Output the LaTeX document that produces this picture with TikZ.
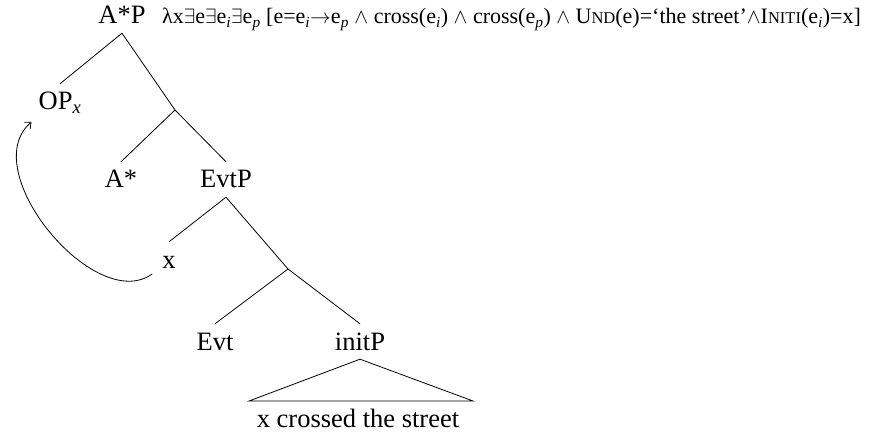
\documentclass[tikz,border=0pt]{standalone}
\usepackage{fontspec}
\setmainfont{Liberation Serif}
\usetikzlibrary{arrows.meta, positioning, calc}

\newcommand{\fakesc}[2]{#1{\fontsize{16.5}{18}\selectfont #2}}
\newcommand{\isub}[1]{\textsubscript{\itshape #1}}

\begin{document}
\begin{tikzpicture}[
  x=1pt, y=-1pt,
  tree label/.style={anchor=base, font=\fontsize{26.5}{30}\selectfont,
    text height=17pt, text depth=0pt, inner xsep=2pt, inner ysep=9pt},
  branch/.style={line width=0.8pt},
  formula/.style={anchor=base west, inner sep=0pt, font=\fontsize{22}{24}\selectfont}
]
  \useasboundingbox (0,0) rectangle (871,433);

  % Labelled nodes of the tree
  \node[tree label] (AP)    at (122,24)  {A*P};
  \node[tree label] (OP)    at (60,110)  {OP\isub{x}};
  \node[tree label] (Astar) at (121,188) {A*};
  \node[tree label] (EvtP)  at (226,188) {EvtP};
  \node[tree label] (x)     at (169,268) {x};
  \node[tree label] (Evt)   at (215,350) {Evt};
  \node[tree label] (initP) at (360,350) {initP};
  \node[tree label, inner ysep=2pt] (street) at (358,427) {x crossed the street};

  % Unlabelled branching points
  \coordinate (j1) at (175,110);
  \coordinate (j2) at (288,269);

  % Triangle corners
  \coordinate (tl) at (249,401);
  \coordinate (tr) at (473,401);

  % Meaning of the top node
  \node[formula] (meaning) at (162,24)
    {λx$\exists$e$\exists$e\isub{i}$\exists$e\isub{p} [e=e\isub{i}$\rightarrow$e\isub{p} $\wedge$ cross(e\isub{i}) $\wedge$ cross(e\isub{p}) $\wedge$ \fakesc{U}{ND}(e)=‘the street’$\wedge$\fakesc{I}{NITI}(e\isub{i})=x]};

  % Branches
  \foreach \from/\to in {AP/OP, EvtP/x} {
    \draw[branch] (\from.south) -- (\to.north);
  }
  \draw[branch] (AP.south) -- (j1);
  \draw[branch] (j1) -- (Astar.north);
  \draw[branch] (j1) -- (EvtP.north);
  \draw[branch] (EvtP.south) -- (j2);
  \draw[branch] (j2) -- (Evt.north);
  \draw[branch] (j2) -- (initP.north);
  \draw[branch] (initP.south) -- (tl) -- (tr) -- cycle;

  % Movement arrow
  \draw[branch, -{Straight Barb[length=5pt, width=9pt]}] ([xshift=-8pt, yshift=-6pt]x.base west)
    .. controls (95,315) and (-25,170) .. ([xshift=-5pt, yshift=-12pt]OP.base west);
\end{tikzpicture}
\end{document}
